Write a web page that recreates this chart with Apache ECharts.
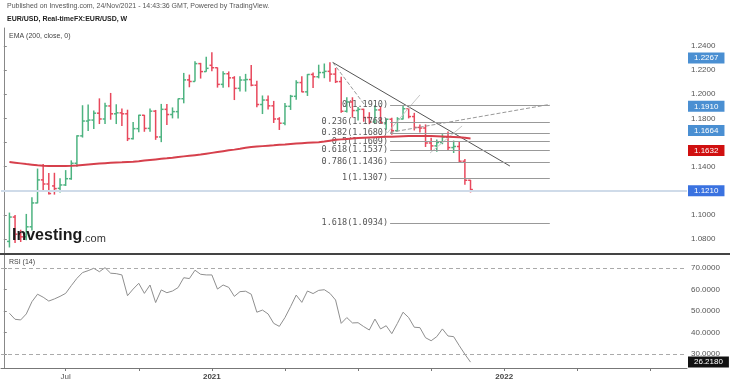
<!DOCTYPE html>
<html><head><meta charset="utf-8">
<script src="https://cdn.jsdelivr.net/npm/echarts@6/dist/echarts.min.js"></script>
<style>html,body{margin:0;padding:0;background:#fff}#c{width:730px;height:385px}</style>
</head><body><div id="c"></div>
<script>
// Weekly EUR/USD bars, first bar = week of 2020-04-27 (x index 1; 2020-04-20 = 0)
const firstWeek = '2020-04-27';
const openP  = [1.0780,1.0982,1.0840,1.0818,1.0901,1.1099,1.1290,1.1256,1.1240,1.1220,1.1248,1.1300,1.1428,1.1655,1.1778,1.1786,1.1843,1.1795,1.1903,1.1838,1.1846,1.1838,1.1632,1.1715,1.1826,1.1717,1.1860,1.1646,1.1875,1.1832,1.1856,1.1963,1.2119,1.2106,1.2254,1.2188,1.2240,1.2220,1.2082,1.2170,1.2136,1.2049,1.2118,1.2122,1.2075,1.1915,1.1952,1.1904,1.1795,1.1760,1.1900,1.1983,1.2097,1.2020,1.2164,1.2145,1.2180,1.2190,1.2167,1.2105,1.1859,1.1936,1.1865,1.1875,1.1807,1.1770,1.1870,1.1762,1.1793,1.1698,1.1795,1.1880,1.1815,1.1725,1.1720,1.1596,1.1572,1.1600,1.1645,1.1558,1.1567,1.1445,1.1287];
const highP  = [1.1019,1.1000,1.0877,1.1008,1.1147,1.1384,1.1422,1.1348,1.1349,1.1303,1.1371,1.1452,1.1660,1.1909,1.1916,1.1866,1.1966,1.1929,1.2011,1.1917,1.1882,1.1872,1.1770,1.1830,1.1829,1.1881,1.1870,1.1920,1.1920,1.1891,1.1965,1.2177,1.2163,1.2273,1.2260,1.2310,1.2349,1.2222,1.2190,1.2189,1.2150,1.2150,1.2169,1.2243,1.2113,1.1990,1.1990,1.1945,1.1810,1.1927,1.1995,1.2117,1.2150,1.2167,1.2181,1.2245,1.2255,1.2266,1.2218,1.2145,1.1975,1.1975,1.1895,1.1880,1.1851,1.1909,1.1900,1.1800,1.1806,1.1810,1.1909,1.1885,1.1846,1.1750,1.1750,1.1640,1.1624,1.1669,1.1692,1.1616,1.1608,1.1464,1.1290];
const lowP   = [1.0730,1.0766,1.0775,1.0790,1.0870,1.1096,1.1203,1.1168,1.1168,1.1185,1.1240,1.1291,1.1400,1.1641,1.1696,1.1711,1.1753,1.1754,1.1789,1.1753,1.1737,1.1612,1.1625,1.1686,1.1689,1.1689,1.1622,1.1603,1.1746,1.1800,1.1800,1.1925,1.2058,1.2105,1.2130,1.2187,1.2190,1.2055,1.2054,1.2058,1.1952,1.2023,1.2022,1.2066,1.1892,1.1836,1.1874,1.1762,1.1704,1.1744,1.1870,1.1955,1.2016,1.1986,1.2051,1.2132,1.2133,1.2104,1.2093,1.1847,1.1848,1.1807,1.1782,1.1772,1.1752,1.1760,1.1760,1.1706,1.1664,1.1692,1.1790,1.1800,1.1700,1.1684,1.1563,1.1529,1.1523,1.1586,1.1535,1.1513,1.1432,1.1250,1.1186];
const closeP = [1.0982,1.0840,1.0818,1.0901,1.1099,1.1290,1.1256,1.1177,1.1218,1.1248,1.1300,1.1428,1.1655,1.1778,1.1786,1.1843,1.1795,1.1903,1.1838,1.1846,1.1838,1.1632,1.1715,1.1826,1.1717,1.1860,1.1646,1.1875,1.1832,1.1856,1.1963,1.2119,1.2106,1.2254,1.2188,1.2215,1.2220,1.2082,1.2170,1.2136,1.2049,1.2118,1.2122,1.2075,1.1915,1.1952,1.1904,1.1795,1.1760,1.1900,1.1983,1.2097,1.2020,1.2164,1.2145,1.2180,1.2190,1.2167,1.2105,1.1859,1.1936,1.1865,1.1875,1.1807,1.1770,1.1870,1.1762,1.1793,1.1698,1.1795,1.1880,1.1815,1.1725,1.1720,1.1596,1.1572,1.1600,1.1645,1.1558,1.1567,1.1445,1.1287,1.1210];
const ema200 = [1.1439,1.1433,1.1427,1.1421,1.1416,1.1411,1.1408,1.1406,1.1405,1.1405,1.1405,1.1407,1.1410,1.1414,1.1418,1.1422,1.1426,1.1429,1.1432,1.1434,1.1436,1.1439,1.1441,1.1445,1.1450,1.1455,1.1460,1.1465,1.1469,1.1474,1.1480,1.1485,1.1490,1.1495,1.1500,1.1507,1.1514,1.1521,1.1528,1.1535,1.1541,1.1548,1.1556,1.1562,1.1566,1.1570,1.1574,1.1577,1.1581,1.1584,1.1588,1.1591,1.1594,1.1597,1.1600,1.1602,1.1608,1.1615,1.1622,1.1626,1.1630,1.1634,1.1637,1.1640,1.1642,1.1644,1.1646,1.1647,1.1648,1.1650,1.1652,1.1653,1.1654,1.1654,1.1654,1.1654,1.1652,1.1650,1.1648,1.1646,1.1643,1.1639,1.1634];
const rsi14 = [49.0,46.2,45.9,48.7,54.4,57.9,56.5,54.7,55.7,56.9,58.3,61.9,65.3,68.0,68.9,70.0,68.4,70.3,67.7,67.5,66.9,57.2,60.3,63.0,58.3,62.2,54.0,59.9,58.6,59.4,61.0,65.6,65.2,69.1,67.2,66.9,66.9,60.3,62.2,61.1,56.9,59.1,59.3,57.9,49.5,50.5,48.7,44.3,42.9,47.0,52.1,57.5,54.1,59.4,58.2,59.7,60.0,58.3,55.2,44.3,47.0,44.5,44.6,42.8,41.2,46.3,41.7,43.2,39.5,44.3,49.5,47.0,42.5,42.3,37.6,36.2,38.1,41.7,38.4,38.1,33.9,29.9,26.218];

// Axis ticks
const xTickValues = [11,24,37,50,63,76,89,102,115];
const xLabelValues = [11,37,89];
const xLabelText = ['Jul','2021','2022'];
const priceTicks = [1.08,1.10,1.12,1.14,1.16,1.18,1.20,1.22,1.24];
const priceLabels = [1.08,1.10,1.14,1.18,1.20,1.22,1.24]; // 1.12 / 1.16 hidden under price tags
const rsiTicks = [30,40,50,60,70];

// Fibonacci retracement
const fibRatios = ['0','0.236','0.382','0.5','0.618','0.786','1','1.618'];
const fibPrices = [1.1910,1.1768,1.1680,1.1609,1.1537,1.1436,1.1307,1.0934];
const fibFrom = 68.7, fibTo = 97.1;

// Drawings [x index, price]
const trendLine = [[58.5,1.2264],[90.0,1.1405]];
const dashedA = [[58.5,1.2264],[64.2,1.1910]];
const dashedB = [[68.7,1.1684],[97.1,1.1916]];
const thinL1 = [[68.2,1.1679],[74.0,1.1994]];
const thinL2 = [[75.8,1.1513],[81.5,1.1737]];

// Price tags on the right axis
const tagValues = [1.2267,1.1910,1.1664,1.1632,1.1210];
const tagColors = ['#4a8fd2','#4a8fd2','#4a8fd2','#d01010','#3a72e0'];
const rsiLast = 26.2180;

const UP = '#4db380', DOWN = '#e8485c';
const FONT = '"Liberation Sans", Arial, sans-serif';
const CLEAR = 'rgba(0,0,0,0)';

const ohlc = openP.map((o,i)=>[i+1,o,highP[i],lowP[i],closeP[i]]);

function renderOHLC(params, api){
  const x = api.value(0), o = api.value(1), h = api.value(2), l = api.value(3), c = api.value(4);
  const pH = api.coord([x,h]), pL = api.coord([x,l]), pO = api.coord([x,o]), pC = api.coord([x,c]);
  const w = api.size([1,0])[0];
  const t = w*0.42;
  const col = c >= o ? UP : DOWN;
  const st = {stroke: col, lineWidth: 1.5};
  return {type:'group', children:[
    {type:'line', shape:{x1:pH[0], y1:pH[1], x2:pL[0], y2:pL[1]}, style:st},
    {type:'line', shape:{x1:pO[0]-t, y1:pO[1], x2:pO[0], y2:pO[1]}, style:st},
    {type:'line', shape:{x1:pC[0], y1:pC[1], x2:pC[0]+t, y2:pC[1]}, style:st}
  ]};
}

function seg(pts, color, type, width){
  return {type:'line', xAxisIndex:0, yAxisIndex:0, data:pts, showSymbol:false, symbol:'none', silent:true,
    lineStyle:{color:color, type:type, width:width}, z:4};
}

const tagLines = tagValues.map((v,i)=>({
  yAxis: v,
  lineStyle: i===4 ? {color:'#cfdbe9', width:2, type:'solid'} : {color:CLEAR, width:1},
  label: {show:true, position:'end', distance:1, formatter: v.toFixed(4), color:'#fff',
    backgroundColor: tagColors[i], padding:[2,6,1,6], fontSize:8, fontFamily:FONT,
    offset: i===3 ? [0,8] : [0,0]}
}));

const fibLines = fibPrices.map((p,i)=>[
  {coord:[fibFrom,p], label:{show:true, position:'start', distance:2, formatter: fibRatios[i]+'('+p.toFixed(4)+')',
    color:'#555', fontSize:8.5, fontFamily:'"DejaVu Sans Mono", monospace'}},
  {coord:[fibTo,p]}
]);

const chart = echarts.init(document.getElementById('c'), null, {renderer:'canvas'});
chart.setOption({
  animation:false,
  backgroundColor:'#fff',
  grid:[
    {left:1, right:43, top:28, height:225},
    {left:1, right:43, top:255, height:113}
  ],
  xAxis:[
    {type:'value', gridIndex:0, min:-0.5, max:121.5, axisLine:{show:false}, axisTick:{show:false}, axisLabel:{show:false}, splitLine:{show:false}},
    {type:'value', gridIndex:1, min:-0.5, max:121.5,
      axisLine:{show:true, lineStyle:{color:'#777', width:1}},
      axisTick:{show:true, customValues:xTickValues, length:3, lineStyle:{color:'#777'}},
      axisLabel:{show:true, customValues:xLabelValues, margin:5, fontSize:8, color:'#555', fontFamily:FONT,
        formatter:(v)=>{const k = xLabelValues.indexOf(Math.round(v)); if(k<0) return ''; const s = xLabelText[k]; return /^\d+$/.test(s) ? '{b|'+s+'}' : s;},
        rich:{b:{fontWeight:'bold', fontSize:8, color:'#444', fontFamily:FONT}}},
      splitLine:{show:false}}
  ],
  yAxis:[
    {type:'value', gridIndex:0, position:'right', min:1.0684, max:1.25493,
      axisLine:{show:true, lineStyle:{color:'#888'}},
      axisTick:{show:true, customValues:priceTicks, length:3, lineStyle:{color:'#888'}},
      axisLabel:{show:true, customValues:priceLabels, margin:4, fontSize:8, color:'#555', fontFamily:FONT, formatter:(v)=>v.toFixed(4)},
      splitLine:{show:false}},
    {type:'value', gridIndex:1, position:'right', min:23.47, max:76.2,
      axisLine:{show:true, lineStyle:{color:'#888'}},
      axisTick:{show:true, customValues:rsiTicks, length:3, lineStyle:{color:'#888'}},
      axisLabel:{show:true, customValues:rsiTicks, margin:4, fontSize:8, color:'#555', fontFamily:FONT, formatter:(v)=>v.toFixed(4)},
      splitLine:{show:false}}
  ],
  series:[
    {type:'custom', name:'EUR/USD', xAxisIndex:0, yAxisIndex:0, data:ohlc, renderItem:renderOHLC,
      encode:{x:0, y:[1,2,3,4]}, silent:true, z:2,
      markLine:{silent:true, symbol:['none','none'], animation:false,
        lineStyle:{color:'#999', width:1, type:'solid'}, data:fibLines}},
    {type:'line', name:'EMA', xAxisIndex:0, yAxisIndex:0, data:ema200.map((v,i)=>[i+1,v]),
      showSymbol:false, symbol:'none', silent:true, lineStyle:{color:'#d6404c', width:2}, z:5,
      markLine:{silent:true, symbol:['none','none'], animation:false, data:tagLines, z:20}},
    seg(trendLine,'#555','solid',1),
    seg(dashedA,'#999','dashed',1),
    seg(dashedB,'#999','dashed',1),
    seg(thinL1,'#c8c8c8','solid',1),
    seg(thinL2,'#c8c8c8','solid',1),
    {type:'line', name:'RSI', xAxisIndex:1, yAxisIndex:1, data:rsi14.map((v,i)=>[i+1,v]),
      showSymbol:false, symbol:'none', silent:true, lineStyle:{color:'#8f8f8f', width:1},
      markLine:{silent:true, symbol:['none','none'], animation:false,
        data:[
          {yAxis:70, lineStyle:{color:'#aaa', type:[4,3], width:1}, label:{show:false}},
          {yAxis:30, lineStyle:{color:'#aaa', type:[4,3], width:1}, label:{show:false}},
          {yAxis:rsiLast, lineStyle:{color:CLEAR, width:1}, label:{show:true, position:'end', distance:1, formatter:rsiLast.toFixed(4),
            color:'#fff', backgroundColor:'#111', padding:[2,6,1,6], fontSize:8, fontFamily:FONT}}
        ]}}
  ],
  graphic:[
    {type:'text', left:7, top:3, z:100, style:{text:'Published on Investing.com, 24/Nov/2021 - 14:43:36 GMT, Powered by TradingView.', font:'7px '+FONT, fill:'#555'}},
    {type:'text', left:7, top:16, z:100, style:{text:'EUR/USD, Real-timeFX:EUR/USD, W', font:'bold 7px '+FONT, fill:'#222'}},
    {type:'text', left:9, top:33, z:100, style:{text:'EMA (200, close, 0)', font:'7px '+FONT, fill:'#444'}},
    {type:'text', left:9, top:259, z:100, style:{text:'RSI (14)', font:'7px '+FONT, fill:'#444'}},
    {type:'line', z:100, shape:{x1:0, y1:254, x2:730, y2:254}, style:{stroke:'#444', lineWidth:2}},
    {type:'text', left:12, top:228, z:100, style:{text:'Investing', font:'bold 16px '+FONT, fill:'#1b1b1b'}},
    {type:'text', left:82, top:233, z:100, style:{text:'.com', font:'11px '+FONT, fill:'#333'}}
  ]
});
</script>
</body></html>
